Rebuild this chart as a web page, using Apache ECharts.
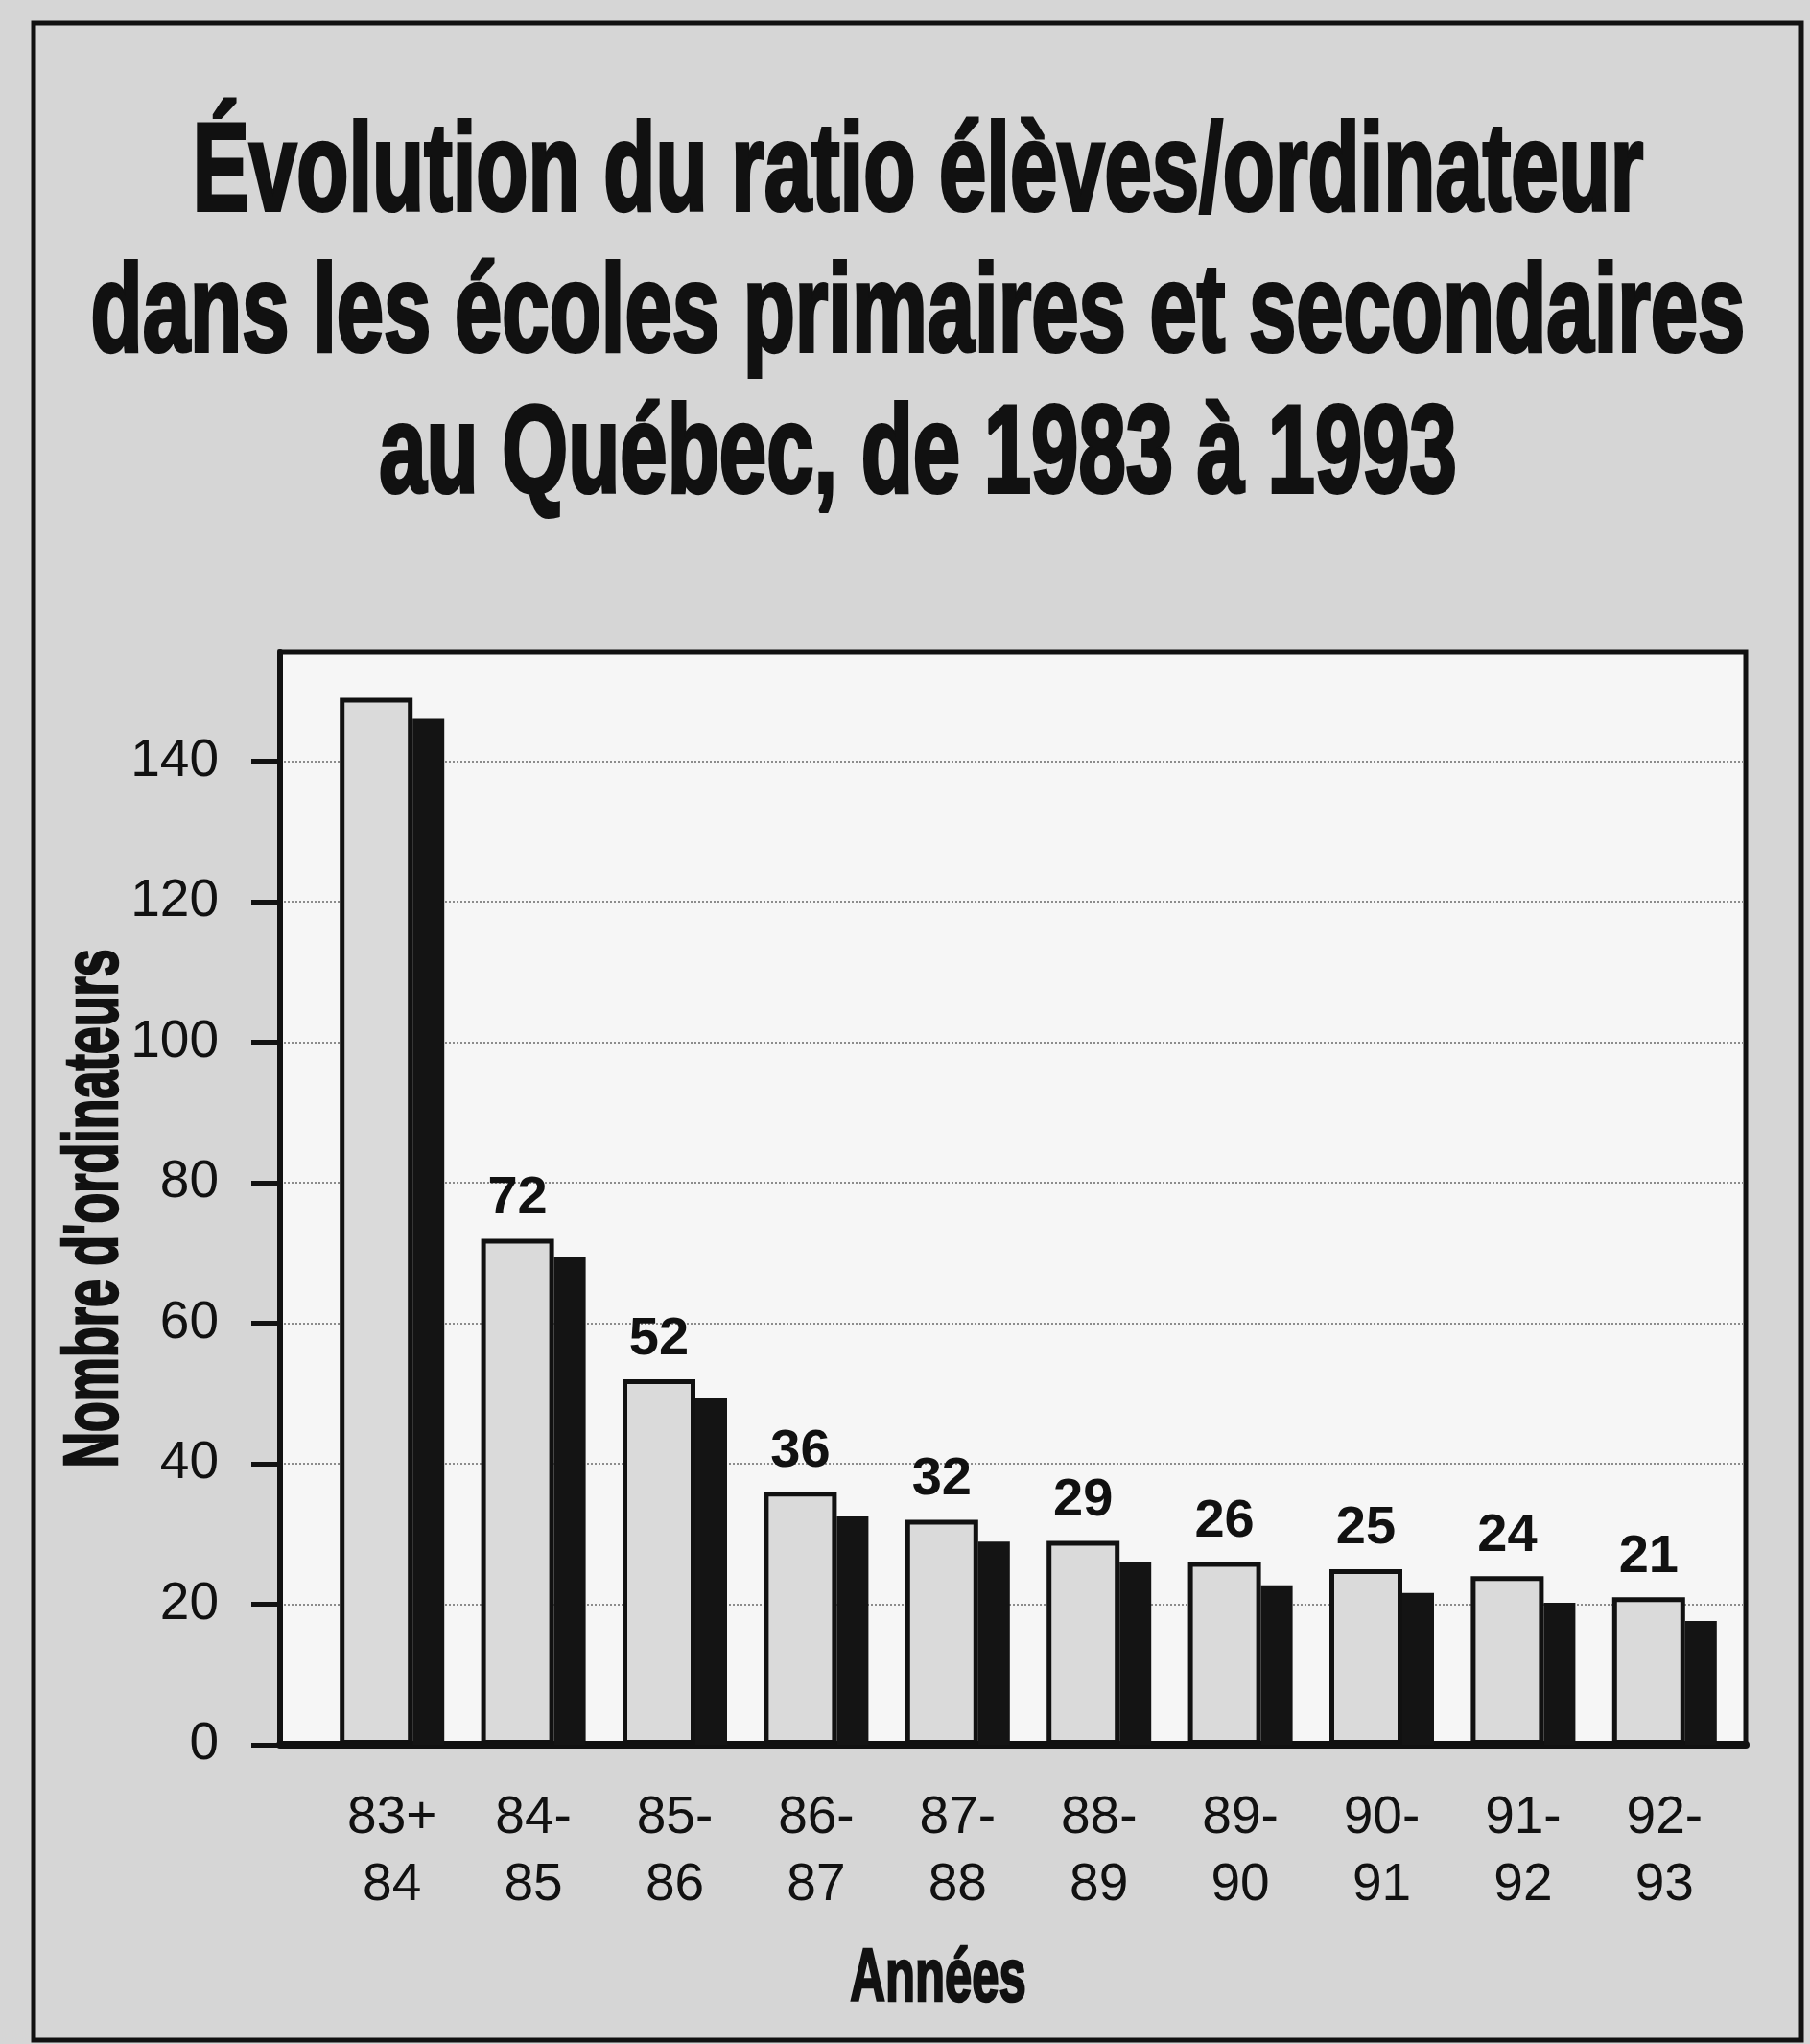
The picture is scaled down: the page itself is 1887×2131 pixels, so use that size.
<!DOCTYPE html>
<html>
<head>
<meta charset="utf-8">
<script src="https://cdn.jsdelivr.net/npm/echarts@6/dist/echarts.min.js"></script>
<style>
html, body { margin: 0; padding: 0; background: #d6d6d6; }
#main { width: 1887px; height: 2131px; }
</style>
</head>
<body>
<div id="main"></div>
<script>
// données
var annees = ['83+\n84', '84-\n85', '85-\n86', '86-\n87', '87-\n88', '88-\n89', '89-\n90', '90-\n91', '91-\n92', '92-\n93'];
var ratio = [149, 72, 52, 36, 32, 29, 26, 25, 24, 21];
// barre noire (ombre) à droite de chaque barre
var ombre = [146, 69.4, 49.3, 32.5, 28.9, 26, 22.7, 21.6, 20.2, 17.6];
var graduations = [0, 20, 40, 60, 80, 100, 120, 140];
var titre = ['Évolution du ratio élèves/ordinateur', 'dans les écoles primaires et secondaires', 'au Québec, de 1983 à 1993'];
var nomY = "Nombre d'ordinateurs";
var nomX = 'Années';

var police = '"Liberation Sans", Arial, sans-serif';
var noir = '#111';

var chart = echarts.init(document.getElementById('main'));

var textes = titre.map(function (t, i) {
    return {
        type: 'text',
        x: 957,
        y: 183 + i * 147,
        scaleX: 0.682,
        style: {
            text: t,
            font: 'bold 130px ' + police,
            fill: noir,
            stroke: noir,
            lineWidth: 4,
            align: 'center',
            verticalAlign: 'middle'
        }
    };
});

var option = {
    backgroundColor: '#d6d6d6',
    animation: false,
    graphic: textes.concat([
        {
            type: 'rect',
            shape: { x: 35, y: 24, width: 1843, height: 2103 },
            style: { fill: null, stroke: noir, lineWidth: 5 }
        },
        {
            type: 'text',
            x: 100,
            y: 1260,
            rotation: Math.PI / 2,
            scaleX: 0.65,
            style: {
                text: nomY,
                font: 'bold 80px ' + police,
                fill: noir,
                stroke: noir,
                lineWidth: 2.5,
                align: 'center',
                verticalAlign: 'middle'
            }
        },
        {
            type: 'text',
            x: 978,
            y: 2065,
            scaleX: 0.66,
            style: {
                text: nomX,
                font: 'bold 77px ' + police,
                fill: noir,
                stroke: noir,
                lineWidth: 2.5,
                align: 'center',
                verticalAlign: 'middle'
            }
        }
    ]),
    grid: [
        // cadre + axes
        {
            left: 292, right: 67, top: 680, bottom: 312,
            show: true,
            backgroundColor: '#f6f6f6',
            borderColor: noir,
            borderWidth: 5
        },
        // barres
        { left: 335, right: 78, top: 680, bottom: 312 }
    ],
    xAxis: [
        {
            gridIndex: 0,
            type: 'category',
            data: annees,
            axisLine: { lineStyle: { color: noir, width: 8 } },
            axisTick: { show: false },
            axisLabel: { show: false }
        },
        {
            gridIndex: 1,
            type: 'category',
            data: annees,
            axisLine: { show: false },
            axisTick: { show: false },
            axisLabel: {
                margin: 42,
                color: noir,
                fontFamily: police,
                fontSize: 55,
                lineHeight: 70
            }
        }
    ],
    yAxis: [
        {
            gridIndex: 0,
            type: 'value',
            min: 0,
            max: 155.5,
            axisLine: { show: true, lineStyle: { color: noir, width: 6 } },
            axisTick: {
                show: true,
                length: 30,
                customValues: graduations,
                lineStyle: { color: noir, width: 5 }
            },
            axisLabel: {
                customValues: graduations,
                margin: 64,
                color: noir,
                fontFamily: police,
                fontSize: 55
            },
            splitLine: {
                show: true,
                lineStyle: { type: 'dotted', color: '#8c8c8c', width: 2 }
            }
        },
        {
            gridIndex: 1,
            type: 'value',
            min: 0,
            max: 155.5,
            show: false
        }
    ],
    series: [
        {
            name: 'ratio',
            type: 'bar',
            xAxisIndex: 1,
            yAxisIndex: 1,
            barWidth: 76,
            barGap: '0%',
            z: 3,
            data: ratio.map(function (v, i) {
                return { value: v, label: { show: i > 0 } };
            }),
            itemStyle: { color: '#dadada', borderColor: noir, borderWidth: 5 },
            label: {
                show: true,
                position: 'top',
                distance: 14,
                color: noir,
                fontFamily: police,
                fontWeight: 'bold',
                fontSize: 56
            }
        },
        {
            name: 'ombre',
            type: 'bar',
            xAxisIndex: 1,
            yAxisIndex: 1,
            barWidth: 33,
            barGap: '0%',
            z: 2,
            data: ombre,
            itemStyle: { color: '#141414' }
        }
    ]
};
chart.setOption(option);
</script>
</body>
</html>
